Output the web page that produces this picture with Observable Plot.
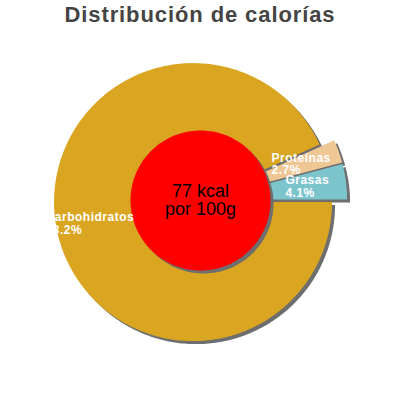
<!DOCTYPE html>
<html><head><meta charset="utf-8">
<script src="https://cdn.jsdelivr.net/npm/d3@7"></script>
<script src="https://cdn.jsdelivr.net/npm/@observablehq/plot@0.6"></script>
<style>
body{margin:0;background:#fff;}
#title{box-sizing:border-box;height:36px;padding-top:2px;line-height:30px;text-align:center;font:bold 22px "Liberation Sans",Arial,sans-serif;color:#444;letter-spacing:0.9px;white-space:nowrap;}
</style></head><body>
<div id="title">Distribución de calorías</div>
<div id="chart"></div>
<script>
// ---- data ----
const categories = ["Carbohidratos", "Proteínas", "Grasas"];
const percents = [93.2, 2.7, 4.1];
const percentLabels = ["93.2%", "2.7%", "4.1%"];
const colors = ["#DAA520", "#EFC795", "#7CC5CD"];
const energyLines = ["77 kcal", "por 100g"];

// ---- layout ----
const W = 400, H = 364;
const pxPerUnit = 139;          // pie radius in pixels
const cxPx = 200, cyPx = 164;   // pie centre within the svg
const explode = 0.055;
const innerR = 70 / pxPerUnit;
const shadowOff = 3 / pxPerUnit;
const labelDist = 0.787;
const labelBoxFactor = 0.545;
const labelFont = "bold 12px 'Liberation Sans'";
const labelSpacing = 0.5;

const total = d3.sum(percents);
const ctx = document.createElement("canvas").getContext("2d");
ctx.font = labelFont;
const textW = (s) => ctx.measureText(s).width + labelSpacing * (s.length - 1);

let cum = 0;
const slices = categories.map((name, i) => {
  const a0 = -cum / total * 2 * Math.PI;
  cum += percents[i];
  const a1 = -cum / total * 2 * Math.PI;
  const am = (a0 + a1) / 2;
  const ox = explode * Math.cos(am), oy = explode * Math.sin(am);
  const n = Math.max(2, Math.ceil(Math.abs(a1 - a0) / (Math.PI / 180)));
  const pts = [{x: ox, y: oy}];
  for (let k = 0; k <= n; k++) {
    const a = a0 + (a1 - a0) * k / n;
    pts.push({x: ox + Math.cos(a), y: oy + Math.sin(a)});
  }
  const lines = [name, percentLabels[i]];
  const w = d3.max(lines, textW) / pxPerUnit;
  return {
    name, color: colors[i], pts,
    label: {text: lines.join("\n"), x: labelDist * Math.cos(am) - w * labelBoxFactor, y: labelDist * Math.sin(am)}
  };
});

const circle = d3.range(0, 361, 2).map(d => ({
  x: innerR * Math.cos(d * Math.PI / 180),
  y: innerR * Math.sin(d * Math.PI / 180)
}));
const shift = (arr) => arr.map(p => ({x: p.x + shadowOff, y: p.y - shadowOff}));

const shadowColor = "#6e6e6e";
const marks = [];
for (const s of slices) marks.push(Plot.line(shift(s.pts), {x: "x", y: "y", curve: "linear-closed", fill: shadowColor, stroke: "none"}));
for (const s of slices) marks.push(Plot.line(s.pts, {x: "x", y: "y", curve: "linear-closed", fill: s.color, stroke: "none"}));
marks.push(Plot.line(shift(circle), {x: "x", y: "y", curve: "linear-closed", fill: shadowColor, stroke: "none"}));
marks.push(Plot.line(circle, {x: "x", y: "y", curve: "linear-closed", fill: "#FF0000", stroke: "none"}));
marks.push(Plot.text(slices.map(s => s.label), {
  x: "x", y: "y", text: "text", textAnchor: "start", lineAnchor: "middle",
  lineHeight: 1.03, fontSize: 12, fontWeight: "bold", fill: "white",
  fontFamily: "Liberation Sans"
}));
marks.push(Plot.text([{text: energyLines.join("\n"), x: 0, y: 0}], {
  x: "x", y: "y", text: "text", textAnchor: "middle", lineAnchor: "middle",
  lineHeight: 1.0, fontSize: 18, fill: "black", fontFamily: "Liberation Sans"
}));

const svg = Plot.plot({
  width: W, height: H, margin: 0,
  x: {domain: [-cxPx / pxPerUnit, (W - cxPx) / pxPerUnit], axis: null},
  y: {domain: [-(H - cyPx) / pxPerUnit, cyPx / pxPerUnit], axis: null},
  style: {background: "white", overflow: "visible"},
  marks
});
const textGroups = svg.querySelectorAll('g[aria-label="text"]');
if (textGroups[0]) textGroups[0].style.letterSpacing = labelSpacing + "px";
document.getElementById("chart").appendChild(svg);
</script>
</body></html>
